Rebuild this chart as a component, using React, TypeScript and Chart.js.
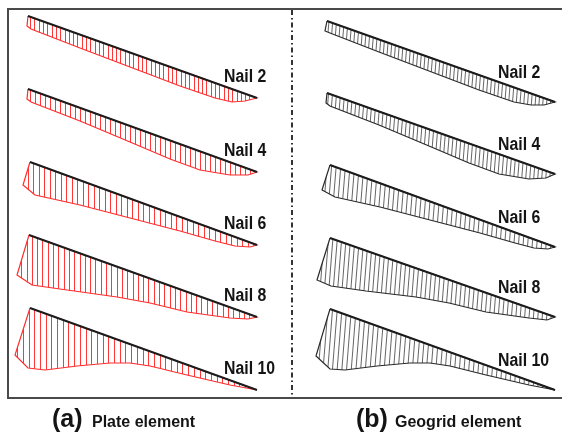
import React, { useEffect, useRef } from 'react';
import { Chart, registerables } from 'chart.js';

Chart.register(...registerables);

// ---- data ---------------------------------------------------------------
const NAIL_LABELS = ['Nail 2', 'Nail 4', 'Nail 6', 'Nail 8', 'Nail 10'];
const PANEL_TAGS = ['(a)', '(b)'];
const PANEL_TITLES = ['Plate element', 'Geogrid element'];

// Nail axes (head -> tail), panel (a) plate element
const PLATE_HEAD_X = [28, 28, 30, 29, 30];
const PLATE_HEAD_Y = [16, 89, 162, 235, 308];
const PLATE_TAIL_X = [257, 257, 257, 257, 257];
const PLATE_TAIL_Y = [98, 172, 245, 317, 390];

// Axial-force envelopes hanging below each nail, panel (a)
const PLATE_ENV_2 = [[27, 26], [31, 29], [80, 48], [130, 67], [180, 86], [215, 98], [232, 102], [245, 101]];
const PLATE_ENV_4 = [[27, 99], [31, 102], [80, 121], [130, 142], [170, 159], [200, 170], [230, 175], [248, 175]];
const PLATE_ENV_6 = [[23, 185], [35, 195], [80, 205], [130, 218], [180, 231], [215, 241], [235, 246], [250, 247]];
const PLATE_ENV_8 = [[17, 275], [32, 285], [67, 290], [117, 297], [150, 303], [187, 312], [230, 318], [248, 319]];
const PLATE_ENV_10 = [[15, 355], [28, 368], [45, 370], [77, 366], [110, 363], [130, 363], [150, 366], [187, 375], [230, 385]];

// Nail axes, panel (b) geogrid element
const GEOGRID_HEAD_X = [327, 327, 330, 330, 330];
const GEOGRID_HEAD_Y = [21, 93, 165, 238, 309];
const GEOGRID_TAIL_X = [555, 555, 555, 555, 555];
const GEOGRID_TAIL_Y = [102, 174, 247, 317, 390];

// Axial-force envelopes, panel (b)
const GEOGRID_ENV_2 = [[325, 31], [330, 33], [379, 52], [429, 71], [479, 90], [514, 102], [531, 105], [544, 105]];
const GEOGRID_ENV_4 = [[326, 103], [330, 106], [379, 125], [429, 146], [469, 163], [499, 174], [529, 179], [546, 178]];
const GEOGRID_ENV_6 = [[322, 190], [335, 197], [380, 207], [430, 220], [480, 233], [515, 243], [534, 248], [548, 249]];
const GEOGRID_ENV_8 = [[317, 280], [331, 286], [366, 291], [416, 297], [449, 303], [486, 312], [529, 318], [547, 320]];
const GEOGRID_ENV_10 = [[316, 356], [330, 369], [345, 370], [377, 366], [410, 363], [430, 363], [450, 366], [486, 375], [529, 385]];

const PLATE_ENVS = [PLATE_ENV_2, PLATE_ENV_4, PLATE_ENV_6, PLATE_ENV_8, PLATE_ENV_10];
const GEOGRID_ENVS = [GEOGRID_ENV_2, GEOGRID_ENV_4, GEOGRID_ENV_6, GEOGRID_ENV_8, GEOGRID_ENV_10];

// ---- styling --------------------------------------------------------------
const W = 562;
const H = 436;

interface PanelStyle {
  hatch: string;
  outline: string;
  spacing: number[];
  lean: number;
  labelX: number;
  labelDy: number;
}

const PLATE_STYLE: PanelStyle = {
  hatch: 'rgb(255,55,55)',
  outline: 'rgb(255,45,45)',
  spacing: [4.3, 5, 5.5, 5.3, 5.7],
  lean: 0,
  labelX: 224,
  labelDy: -21,
};

const GEOGRID_STYLE: PanelStyle = {
  hatch: 'rgba(50,50,50,0.75)',
  outline: '#2a2a2a',
  spacing: [3.8, 4, 4.6, 4.4, 4.7],
  lean: 0.08,
  labelX: 498,
  labelDy: -29,
};

// Hatch pattern: thin lines repeated every `spacing` px, optionally leaning.
function makeHatch(spacing: number, color: string, lean: number): CanvasPattern | string {
  const reps = 10;
  const pw = Math.round(spacing * reps);
  const s = pw / reps;
  const ph = lean > 0 ? Math.round(s / lean) : 2;
  const c = document.createElement('canvas');
  c.width = pw;
  c.height = ph;
  const g = c.getContext('2d');
  if (!g) return color;
  g.strokeStyle = color;
  g.lineWidth = 1;
  for (let i = -2; i <= reps + 2; i++) {
    const x0 = lean > 0 ? i * s : Math.round(i * s) + 0.5;
    g.beginPath();
    if (lean > 0) {
      g.moveTo(x0 + s, 0);
      g.lineTo(x0, ph);
    } else {
      g.moveTo(x0, 0);
      g.lineTo(x0, ph);
    }
    g.stroke();
  }
  const p = g.createPattern(c, 'repeat');
  return p || color;
}

function buildPanel(
  headX: number[], headY: number[], tailX: number[], tailY: number[],
  envs: number[][][], style: PanelStyle,
) {
  const sets: any[] = [];
  envs.forEach((env, i) => {
    const head = { x: headX[i], y: headY[i] };
    const tail = { x: tailX[i], y: tailY[i] };
    const back = env.slice().reverse().map(([x, y]) => ({ x, y }));
    sets.push({
      label: NAIL_LABELS[i] + ' force',
      data: [head, tail, ...back, head],
      fill: 'shape',
      backgroundColor: makeHatch(style.spacing[i], style.hatch, style.lean),
      borderColor: style.outline,
      borderWidth: 1.2,
      pointRadius: 0,
      tension: 0,
      order: 2,
    });
    sets.push({
      label: NAIL_LABELS[i],
      data: [head, tail],
      fill: false,
      borderColor: '#1c1c1c',
      borderWidth: 2,
      pointRadius: 0,
      tension: 0,
      order: 1,
    });
  });
  return sets;
}

const decorPlugin = {
  id: 'figureDecor',
  beforeDatasetsDraw(chart: any) {
    const ctx = chart.ctx as CanvasRenderingContext2D;
    const xs = chart.scales.x;
    const ys = chart.scales.y;
    ctx.save();
    // outer frame
    ctx.strokeStyle = '#4a4a4a';
    ctx.lineWidth = 2;
    ctx.strokeRect(xs.getPixelForValue(8), ys.getPixelForValue(9), xs.getPixelForValue(575) - xs.getPixelForValue(8), ys.getPixelForValue(398) - ys.getPixelForValue(9));
    // dash-dot separator between the panels
    ctx.strokeStyle = '#333';
    ctx.lineWidth = 2;
    ctx.setLineDash([5, 3, 1.5, 3]);
    ctx.beginPath();
    ctx.moveTo(xs.getPixelForValue(292), ys.getPixelForValue(10));
    ctx.lineTo(xs.getPixelForValue(292), ys.getPixelForValue(397));
    ctx.stroke();
    ctx.restore();
  },
  afterDatasetsDraw(chart: any) {
    const ctx = chart.ctx as CanvasRenderingContext2D;
    const xs = chart.scales.x;
    const ys = chart.scales.y;
    ctx.save();
    ctx.fillStyle = '#141414';
    ctx.textBaseline = 'middle';
    ctx.textAlign = 'left';
    const drawLabels = (tailY: number[], style: PanelStyle) => {
      NAIL_LABELS.forEach((lab, i) => {
        ctx.save();
        ctx.translate(xs.getPixelForValue(style.labelX), ys.getPixelForValue(tailY[i] + style.labelDy));
        ctx.scale(0.88, 1);
        ctx.font = 'bold 18px "Liberation Sans", Arial, sans-serif';
        ctx.fillText(lab, 0, 0);
        ctx.restore();
      });
    };
    drawLabels(PLATE_TAIL_Y, PLATE_STYLE);
    drawLabels(GEOGRID_TAIL_Y, GEOGRID_STYLE);

    // panel captions
    ctx.textBaseline = 'alphabetic';
    const captions = [
      { tagX: 52, titleX: 92 },
      { tagX: 356, titleX: 395 },
    ];
    captions.forEach((c, i) => {
      ctx.font = 'bold 25px "Liberation Sans", Arial, sans-serif';
      ctx.fillText(PANEL_TAGS[i], xs.getPixelForValue(c.tagX), ys.getPixelForValue(427));
      ctx.font = 'bold 16px "Liberation Sans", Arial, sans-serif';
      ctx.fillText(PANEL_TITLES[i], xs.getPixelForValue(c.titleX), ys.getPixelForValue(427));
    });
    ctx.restore();
  },
};

export default function App() {
  const ref = useRef<HTMLCanvasElement | null>(null);

  useEffect(() => {
    if (!ref.current) return;
    const datasets = [
      ...buildPanel(PLATE_HEAD_X, PLATE_HEAD_Y, PLATE_TAIL_X, PLATE_TAIL_Y, PLATE_ENVS, PLATE_STYLE),
      ...buildPanel(GEOGRID_HEAD_X, GEOGRID_HEAD_Y, GEOGRID_TAIL_X, GEOGRID_TAIL_Y, GEOGRID_ENVS, GEOGRID_STYLE),
    ];
    const chart = new Chart(ref.current, {
      type: 'line',
      data: { datasets },
      options: {
        animation: false,
        responsive: false,
        events: [],
        layout: { padding: 0 },
        scales: {
          x: { type: 'linear', min: 0, max: W, display: false },
          y: { type: 'linear', min: 0, max: H, reverse: true, display: false },
        },
        plugins: {
          legend: { display: false },
          tooltip: { enabled: false },
        },
      },
      plugins: [decorPlugin],
    } as any);
    return () => chart.destroy();
  }, []);

  return (
    <div style={{ position: 'absolute', left: 0, top: 0, width: W, height: H, background: '#fff' }}>
      <canvas ref={ref} width={W} height={H} />
    </div>
  );
}
